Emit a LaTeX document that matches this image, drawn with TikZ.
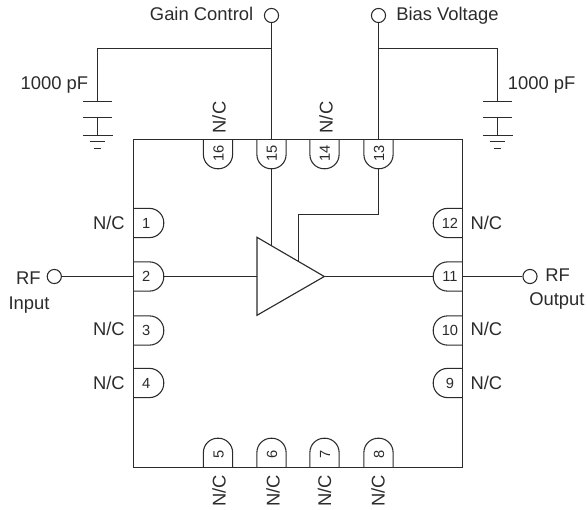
\documentclass[tikz,border=0pt]{standalone}
\usepackage{fontspec}
\usepackage{graphicx}
\setmainfont{Liberation Sans}
\definecolor{ink}{HTML}{2B2B2B}
\tikzset{
  wire/.style={draw=ink,line width=0.85pt,line join=miter},
  thin wire/.style={draw=ink,line width=0.85pt},
  term/.style={circle,draw=ink,line width=0.8pt,minimum size=10.6pt,inner sep=0pt,fill=white},
  pinbox/.style={rectangle,inner sep=0pt,minimum width=#1},
  pinshape/.style={draw=ink,line width=0.8pt,rounded corners=10.7pt},
  num/.style={inner sep=0pt,text=ink,font=\fontsize{11}{12}\selectfont,text height=7.8pt,text depth=0pt},
  lab/.style={inner sep=0pt,text=ink,font=\fontsize{13.8}{16}\selectfont,text height=9.9pt,text depth=0pt},
  labd/.style={inner sep=0pt,text=ink,font=\fontsize{13.8}{16}\selectfont,text height=9.9pt,text depth=2.9pt},
}
% top pin: name, x, number
\newcommand{\pinTop}[3]{%
  \node[pinbox=21.5pt,minimum height=21.75pt] (#1) at (#2,154) {};
  \draw[pinshape] (#1.north west) -- (#1.south west) -- (#1.south east) -- (#1.north east);
  \node[num,rotate=90] (#1n) at (#2+0.3,153) {#3};}
\newcommand{\pinBot}[3]{%
  \node[pinbox=21.5pt,minimum height=21.75pt] (#1) at (#2,453) {};
  \draw[pinshape] (#1.south west) -- (#1.north west) -- (#1.north east) -- (#1.south east);
  \node[num,rotate=90] (#1n) at (#2+0.5,454) {#3};}
\newcommand{\pinLeft}[3]{%
  \node[pinbox=21.75pt,minimum height=21.5pt] (#1) at (149,#2) {};
  \draw[pinshape] (#1.north west) -- (#1.north east) -- (#1.south east) -- (#1.south west);
  \node[num] (#1n) at (146.3,#2) {#3};}
\newcommand{\pinRight}[3]{%
  \node[pinbox=21.75pt,minimum height=21.5pt] (#1) at (448,#2) {};
  \draw[pinshape] (#1.north east) -- (#1.north west) -- (#1.south west) -- (#1.south east);
  \node[num] (#1n) at (450,#2) {#3};}
\begin{document}
\begin{tikzpicture}[x=0.75pt,y=-0.75pt]
\useasboundingbox (0,0) rectangle (587,510);
% package body
\node[rectangle,draw=ink,line width=0.85pt,minimum width=246.6pt,minimum height=246pt,inner sep=0pt,outer sep=0pt] (body) at (298.2,303.5) {};
% pins
\pinTop{p16}{218}{16}
\pinTop{p15}{271.5}{15}
\pinTop{p14}{324.5}{14}
\pinTop{p13}{378.5}{13}
\pinBot{p5}{218}{5}
\pinBot{p6}{271.5}{6}
\pinBot{p7}{324.5}{7}
\pinBot{p8}{378.5}{8}
\pinLeft{p1}{223}{1}
\pinLeft{p2}{276.5}{2}
\pinLeft{p3}{330.5}{3}
\pinLeft{p4}{383}{4}
\pinRight{p12}{223}{12}
\pinRight{p11}{276.5}{11}
\pinRight{p10}{330.5}{10}
\pinRight{p9}{383}{9}
% amplifier
\coordinate (aT) at (257,237.3);
\coordinate (aB) at (257,315.3);
\coordinate (aO) at (324.3,276.5);
\coordinate (aI) at (257,276.5);
\coordinate (aG) at (271.5,245.7);
\coordinate (aV) at (298.5,261.3);
\draw[thin wire,line join=miter] (aT) -- (aO) -- (aB) -- cycle;
% terminals
\node[term] (gain) at (271.5,15.5) {};
\node[term] (bias) at (378.5,15.5) {};
\node[term] (rfin) at (54.3,276.5) {};
\node[term] (rfout) at (530,276.5) {};
% wires
\draw[wire] (gain) -- (p15.north);
\draw[wire] (bias) -- (p13.north);
\draw[thin wire] (p15.south) -- (aG);
\coordinate (bend) at (298.5,214.5);
\coordinate (bend13) at (378.5,214.5);
\draw[thin wire] (p13.south) -- (bend13) -- (bend) -- (aV);
\draw[thin wire] (rfin) -- (p2.west);
\draw[thin wire] (p2.east) -- (aI);
\draw[thin wire] (aO) -- (p11.west);
\draw[thin wire] (p11.east) -- (rfout);
% left capacitor
\coordinate (gj) at (271.5,48.5);
\coordinate (lc) at (97.5,48.5);
\coordinate (lp1) at (97.5,101.5);
\coordinate (lp2) at (97.5,117.5);
\coordinate (lg1) at (97.5,135.5);
\draw[wire] (gj) -- (lc) -- (lp1);
\draw[wire] (lp2) -- (lg1);
\draw[wire] ([xshift=-11pt]lp1) -- ([xshift=11pt]lp1);
\draw[wire] ([xshift=-11pt]lp2) -- ([xshift=11pt]lp2);
\draw[wire] ([xshift=-11pt]lg1) -- ([xshift=11.4pt]lg1);
\draw[wire] ([xshift=-5.5pt,yshift=-4.5pt]lg1) -- ([xshift=5.9pt,yshift=-4.5pt]lg1);
\draw[wire] ([xshift=-2.5pt,yshift=-9.75pt]lg1) -- ([xshift=2.7pt,yshift=-9.75pt]lg1);
% right capacitor
\coordinate (bj) at (378.5,48.5);
\coordinate (rc) at (497.5,48.5);
\coordinate (rp1) at (497.5,101.5);
\coordinate (rp2) at (497.5,117.5);
\coordinate (rg1) at (497.5,135.5);
\draw[wire] (bj) -- (rc) -- (rp1);
\draw[wire] (rp2) -- (rg1);
\draw[wire] ([xshift=-11pt]rp1) -- ([xshift=11pt]rp1);
\draw[wire] ([xshift=-11pt]rp2) -- ([xshift=11pt]rp2);
\draw[wire] ([xshift=-11pt]rg1) -- ([xshift=11.4pt]rg1);
\draw[wire] ([xshift=-5.5pt,yshift=-4.5pt]rg1) -- ([xshift=5.9pt,yshift=-4.5pt]rg1);
\draw[wire] ([xshift=-2.5pt,yshift=-9.75pt]rg1) -- ([xshift=2.7pt,yshift=-9.75pt]rg1);
% labels
\node[labd,anchor=east] (tgain) at (253.5,16) {Gain Control};
\node[labd,anchor=west] (tbias) at (396,16) {Bias Voltage};
\node[labd,anchor=east] (tcapl) at (88.5,85) {1000 pF};
\node[labd,anchor=west] (tcapr) at (507.7,85) {1000 pF};
\node[lab,anchor=east] (nc1) at (125,222.5) {N/C};
\node[lab,anchor=east] (nc3) at (125,329) {N/C};
\node[lab,anchor=east] (nc4) at (125,382.5) {N/C};
\node[lab,anchor=west] (nc12) at (470.3,222.5) {N/C};
\node[lab,anchor=west] (nc10) at (470.3,329) {N/C};
\node[lab,anchor=west] (nc9) at (470.3,382.5) {N/C};
\node[lab,rotate=90] (nc16) at (219,117.5) {N/C};
\node[lab,rotate=90] (nc14) at (326,117.5) {N/C};
\node[lab,rotate=90] (nc5) at (219,491) {N/C};
\node[lab,rotate=90] (nc6) at (273,491) {N/C};
\node[lab,rotate=90] (nc7) at (324.5,491) {N/C};
\node[lab,rotate=90] (nc8) at (378,491) {N/C};
\node[lab,anchor=east] (trfi) at (41,278) {RF};
\node[lab] (tinp) at (29,302.5) {Input};
\node[lab,anchor=west] (trfo) at (545,275) {RF};
\node[lab,anchor=west] (tout) at (529,299) {Output};
\end{tikzpicture}
\end{document}
